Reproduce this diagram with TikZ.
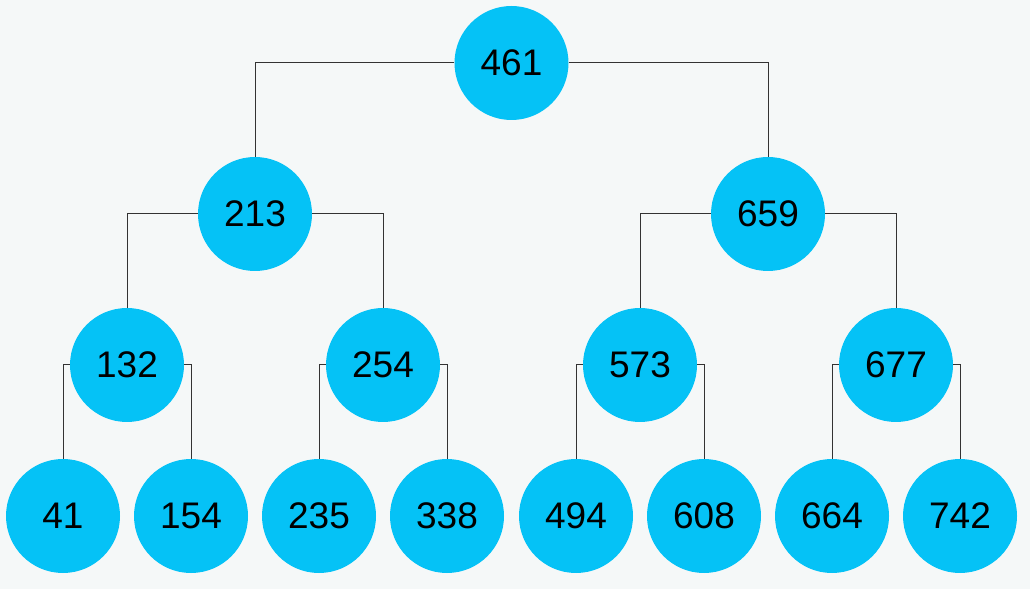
\documentclass[tikz,border=0pt]{standalone}
\usepackage{fontspec}
\setmainfont{Liberation Sans}
\definecolor{bgcol}{HTML}{F5F8F8}
\definecolor{nodecol}{HTML}{05C2F6}
\definecolor{linecol}{HTML}{333333}
\begin{document}
\begin{tikzpicture}[
      level distance=151pt,
      every node/.style={circle,fill=nodecol,minimum size=114pt,inner sep=0pt,font=\fontsize{37}{40}\selectfont},
      edge from parent/.style={draw=linecol,line width=1pt},
      lft/.style={edge from parent path={(\tikzparentnode.west) -| (\tikzchildnode.north)}},
      rgt/.style={edge from parent path={(\tikzparentnode.east) -| (\tikzchildnode.north)}},
      level 1/.style={sibling distance=513pt},
      level 2/.style={sibling distance=256pt},
      level 3/.style={sibling distance=128pt}
    ]
      \fill[bgcol] (0,0) rectangle (1030pt,589pt);
      \useasboundingbox (0,0) rectangle (1030pt,589pt);
      \node (n461) at (511.5pt,526pt) {461}
        child[lft] {node (n213) {213}
          child[lft] {node (n132) {132}
            child[lft] {node (n41) {41}}
            child[rgt] {node (n154) {154}}
          }
          child[rgt] {node (n254) {254}
            child[lft] {node (n235) {235}}
            child[rgt] {node (n338) {338}}
          }
        }
        child[rgt] {node (n659) {659}
          child[lft] {node (n573) {573}
            child[lft] {node (n494) {494}}
            child[rgt] {node (n608) {608}}
          }
          child[rgt] {node (n677) {677}
            child[lft] {node (n664) {664}}
            child[rgt] {node (n742) {742}}
          }
        }
      ;
    \end{tikzpicture}
\end{document}
